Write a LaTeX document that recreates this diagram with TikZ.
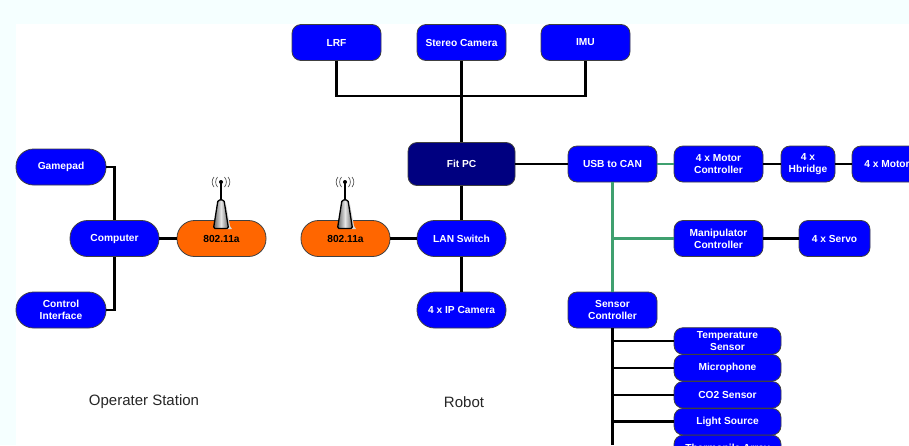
\documentclass[tikz,border=0pt]{standalone}
\usepackage{fontspec}
\setmainfont{Liberation Sans}
\definecolor{pagebg}{HTML}{F5FFFF}
\definecolor{busgreen}{HTML}{3FA06F}
\definecolor{nodeblue}{HTML}{0000FF}
\definecolor{navy}{HTML}{000080}
\definecolor{radio}{HTML}{FF6600}
\tikzset{x=1pt,y=-1pt,
  base/.style={draw=black!75,line width=0.8pt,fill=nodeblue,text=white,font=\bfseries\fontsize{10.2}{12}\selectfont,align=center,inner sep=0pt,minimum width=89pt,minimum height=36pt},
  boxn/.style={base,rounded corners=9pt},
  pill/.style={base,rounded corners=17.5pt},
  radiopill/.style={pill,fill=radio,text=black},
  sens/.style={base,rounded corners=9pt,minimum width=107pt,minimum height=26.6pt},
  wire/.style={draw=black,line width=2.5pt},
  canbus/.style={draw=busgreen,line width=2.5pt},
  caption/.style={font=\fontsize{15}{17}\selectfont,text=black!85,inner sep=0pt},
  wave/.style={draw=black!75,line width=0.6pt},
}
\begin{document}
\begin{tikzpicture}
\useasboundingbox (0,0) rectangle (909,445);
\clip (0,0) rectangle (909,445);
\fill[pagebg] (0,0) rectangle (909,445);
\fill[white] (16,24) rectangle (909,445);
\coordinate (busend) at (612.5,445);
\coordinate (topbus) at (461.5,96);
% nodes
\node[boxn] (lrf) at (336.5,42.5) {LRF};
\node[boxn] (stereo) at (461.5,42.5) {Stereo Camera};
\node[boxn] (imu) at (585.5,42.5) {IMU};
\node[boxn,fill=navy,minimum width=107pt,minimum height=43pt] (fit) at (461.5,164) {Fit PC};
\node[boxn] (usb) at (612.5,164) {USB to CAN};
\node[boxn] (mc) at (718.5,164) {4 x Motor\\Controller};
\node[boxn,minimum width=54pt] (hb) at (808,164) {4 x\\Hbridge};
\node[boxn,minimum width=70pt] (motor) at (887,164) {4 x Motor};
\node[pill] (lan) at (461.5,238.5) {LAN Switch};
\node[pill] (ip) at (461.5,310) {4 x IP Camera};
\node[radiopill] (r2) at (345.5,238.5) {802.11a};
\node[radiopill] (r1) at (221.5,238.5) {802.11a};
\node[pill] (comp) at (114.5,238.5) {Computer};
\node[pill,minimum width=90pt] (game) at (61,167) {Gamepad};
\node[pill,minimum width=90pt] (ctrl) at (61,310) {Control\\Interface};
\node[boxn] (manip) at (718.5,238.5) {Manipulator\\Controller};
\node[boxn,minimum width=71pt] (servo) at (834.5,238.5) {4 x Servo};
\node[boxn] (sc) at (612.5,310) {Sensor\\Controller};
\node[sens] (s1) at (727.5,341) {Temperature\\Sensor};
\node[sens] (s2) at (727.5,367.8) {Microphone};
\node[sens] (s3) at (727.5,394.8) {CO2 Sensor};
\node[sens] (s4) at (727.5,421.7) {Light Source};
\node[sens] (s5) at (727.5,448.5) {Thermopile Array};
\node[caption] (opst) at (144,402) {Operater Station};
\node[caption] (robot) at (464,402.5) {Robot};
% connectors
\draw[wire] (lrf.south) |- (topbus) -| (imu.south);
\draw[wire] (stereo.south) -- (fit.north);
\draw[wire] (fit.south) -- (lan.north);
\draw[wire] (lan.south) -- (ip.north);
\draw[wire] (fit.east) -- (usb.west);
\draw[wire] (r2.east) -- (lan.west);
\draw[wire] (comp.east) -- (r1.west);
\draw[wire] (game.east) -| (comp.north);
\draw[wire] (ctrl.east) -| (comp.south);
\draw[canbus] (usb.east) -- (mc.west);
\draw[canbus] (usb.south) -- (sc.north);
\draw[canbus] (manip.west -| usb.south) -- (manip.west);
\draw[wire] (mc.east) -- (hb.west);
\draw[wire] (hb.east) -- (motor.west);
\draw[wire] (manip.east) -- (servo.west);
\draw[wire] (sc.south) -- (busend);
\foreach \s in {s1,s2,s3,s4}{ \draw[wire] (\s.west -| sc.south) -- (\s.west); }
% antennas
\foreach \ax in {221,345}{
\begin{scope}[shift={(\ax,0)}]
 \fill[black!15] (5,204) -- (9,226) -- (11,229) -- (5,229) -- cycle;
 \draw[black,line width=1.3pt] (0,182) -- (0,201);
 \fill[black] (0,182) circle (2pt);
 \foreach \r in {5,8.5}{
  \draw[wave] (-\r+1.5,177) .. controls (-\r-1,180) and (-\r-1,184) .. (-\r+1.5,187);
  \draw[wave] (\r-1.5,177) .. controls (\r+1,180) and (\r+1,184) .. (\r-1.5,187);
 }
 \draw[black,line width=1.3pt,left color=black!60,right color=black!60,middle color=black!10,rounded corners=1.5pt]
   (-3,200) -- (3,200) -- (7.5,228.5) -- (-7.5,228.5) -- cycle;
\end{scope}}
\end{tikzpicture}
\end{document}
